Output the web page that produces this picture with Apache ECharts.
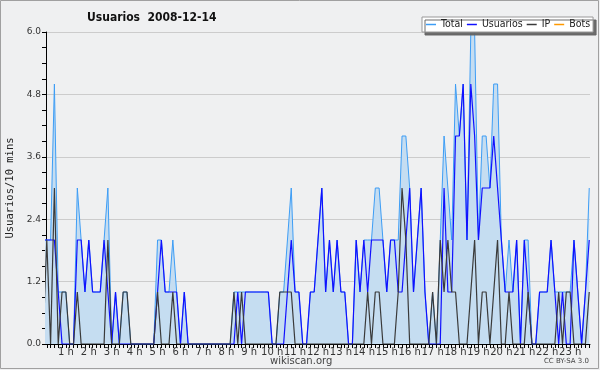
<!DOCTYPE html>
<html><head><meta charset="utf-8">
<script src="https://cdn.jsdelivr.net/npm/echarts@6/dist/echarts.min.js"></script>
<style>html,body{margin:0;padding:0;background:#eff0f1}#c{width:600px;height:370px}</style>
</head><body><div id="c"></div>
<script>
// 10-minute slots, index 0..143 (6 per hour)
const hourLabels = ["1 h","2 h","3 h","4 h","5 h","6 h","7 h","8 h","9 h","10 h","11 h","12 h","13 h","14 h","15 h","16 h","17 h","18 h","19 h","20 h","21 h","22 h","23 h"];
const yTicks = [0, 1.2, 2.4, 3.6, 4.8, 6.0];
const total = [
 2,2,2,5,1,1, 1,0,0,3,2,1, 2,1,1,1,2,3, 0,1,0,1,1,0, 0,0,0,0,0,0, 2,2,1,1,2,1,
 0,1,0,0,0,0, 0,0,0,0,0,0, 0,0,1,1,1,1, 1,1,1,1,1,1, 0,0,1,1,2,3, 1,1,0,0,1,1,
 2,3,1,2,1,2, 1,1,0,0,2,1, 2,2,2,3,3,2, 1,2,2,2,4,4, 3,1,2,3,1,0, 1,0,2,4,3,2,
 5,4,5,2,6,6, 2,4,4,3,5,5, 2,1,2,1,2,0, 2,2,0,0,1,1, 1,2,1,1,1,1, 1,2,1,0,1,3
];
const usuarios = [
 2,2,2,2,1,0, 0,0,0,2,2,1, 2,1,1,1,2,1, 0,1,0,0,0,0, 0,0,0,0,0,0, 1,2,1,1,1,1,
 0,1,0,0,0,0, 0,0,0,0,0,0, 0,0,0,1,0,1, 1,1,1,1,1,1, 0,0,0,0,1,2, 1,1,0,0,1,1,
 2,3,1,2,1,2, 1,1,0,0,2,1, 2,1,2,2,2,2, 1,2,2,1,1,2, 3,1,2,3,1,0, 0,0,0,3,1,1,
 4,4,5,2,5,4, 2,3,3,3,4,3, 2,1,1,1,2,0, 2,1,0,0,1,1, 1,2,1,0,1,0, 0,2,1,0,1,2
];
const ip = [
 0,2,0,3,0,1, 1,0,0,1,0,0, 0,0,0,0,0,2, 0,0,0,1,1,0, 0,0,0,0,0,0, 1,0,0,0,1,0,
 0,0,0,0,0,0, 0,0,0,0,0,0, 0,0,1,0,1,0, 0,0,0,0,0,0, 0,0,1,1,1,1, 0,0,0,0,0,0,
 0,0,0,0,0,0, 0,0,0,0,0,0, 0,1,0,1,1,0, 0,0,0,1,3,2, 0,0,0,0,0,0, 1,0,2,1,2,1,
 1,0,0,0,1,2, 0,1,1,0,1,2, 0,0,1,0,0,0, 0,1,0,0,0,0, 0,0,0,1,0,1, 1,0,0,0,0,1
];
const bots = [];

const toXY = a => a.map((v, i) => [i, v]);
const hourTicks = hourLabels.map((_, k) => (k + 1) * 6);
const minorTicks = Array.from({length: 143}, (_, k) => k + 1);
const condensed = 'DejaVu Sans Condensed, DejaVu Sans';

const chart = echarts.init(document.getElementById('c'), null, {renderer: 'canvas'});
chart.setOption({
  animation: false,
  backgroundColor: '#eff0f1',
  title: {
    text: 'Usuarios  2008-12-14', left: 82, top: 7,
    textStyle: {fontFamily: condensed, fontWeight: 'bold', fontSize: 12, color: '#111'}
  },
  legend: {
    left: 422, top: 17, orient: 'horizontal',
    data: ['Total', 'Usuarios', 'IP', 'Bots'],
    icon: 'rect', itemWidth: 10, itemHeight: 1.5, itemGap: 4,
    padding: [2, 3, 2, 4],
    backgroundColor: '#ffffff', borderColor: '#999', borderWidth: 1,
    shadowColor: 'rgba(100,100,100,0.95)', shadowOffsetX: 3, shadowOffsetY: 3, shadowBlur: 0,
    textStyle: {fontFamily: condensed, fontSize: 10.5, color: '#222'}
  },
  grid: {left: 46, right: 10, top: 32, bottom: 26, containLabel: false, outerBoundsMode: 'none'},
  xAxis: {
    type: 'value', min: 0.8, max: 143.2,
    axisLine: {show: true, lineStyle: {color: '#000', width: 1}},
    axisTick: {show: true, customValues: minorTicks, length: 4, lineStyle: {color: '#000'}},
    axisLabel: {
      customValues: hourTicks, margin: 3,
      formatter: v => hourLabels[Math.round(v / 6) - 1],
      fontFamily: 'DejaVu Sans', fontSize: 10, color: '#333'
    },
    splitLine: {show: false}
  },
  yAxis: {
    type: 'value', min: 0, max: 6, interval: 1.2,
    name: 'Usuarios/10 mins', nameLocation: 'middle', nameGap: 29, nameRotate: 90,
    nameTextStyle: {fontFamily: 'DejaVu Sans Mono', fontSize: 10.5, color: '#222'},
    axisLine: {show: true, lineStyle: {color: '#000', width: 1}},
    axisTick: {show: true, length: 4, lineStyle: {color: '#000'}},
    minorTick: {show: true, splitNumber: 4, length: 4, lineStyle: {color: '#000'}},
    axisLabel: {
      customValues: yTicks, margin: 5,
      formatter: v => v.toFixed(1),
      fontFamily: 'DejaVu Sans', fontSize: 9, color: '#333'
    },
    splitLine: {show: true, lineStyle: {color: '#cccccc', width: 1}}
  },
  series: [
    {name: 'Total', type: 'line', data: toXY(total), symbol: 'none', clip: true,
     lineStyle: {color: '#3d9df5', width: 1}, itemStyle: {color: '#3d9df5'},
     areaStyle: {color: '#c5ddf1', opacity: 1}},
    {name: 'Usuarios', type: 'line', data: toXY(usuarios), symbol: 'none', clip: true,
     lineStyle: {color: '#1010ff', width: 1.2}, itemStyle: {color: '#1010ff'}},
    {name: 'IP', type: 'line', data: toXY(ip), symbol: 'none', clip: true,
     lineStyle: {color: '#3a3a3a', width: 1.2}, itemStyle: {color: '#3a3a3a'}},
    {name: 'Bots', type: 'line', data: toXY(bots), symbol: 'none', clip: true,
     lineStyle: {color: '#ff9900', width: 1}, itemStyle: {color: '#ff9900'}}
  ],
  graphic: [
    {type: 'rect', shape: {x: 0.5, y: 0.5, width: 598, height: 368}, style: {fill: 'none', stroke: '#a0a0a0', lineWidth: 1}, silent: true},
    {type: 'text', left: 270, top: 356, style: {text: 'wikiscan.org', font: '10px DejaVu Sans', fill: '#444'}},
    {type: 'text', right: 11, top: 358, style: {text: 'CC BY-SA 3.0', font: '7px DejaVu Sans', fill: '#444'}}
  ]
});
</script></body></html>
